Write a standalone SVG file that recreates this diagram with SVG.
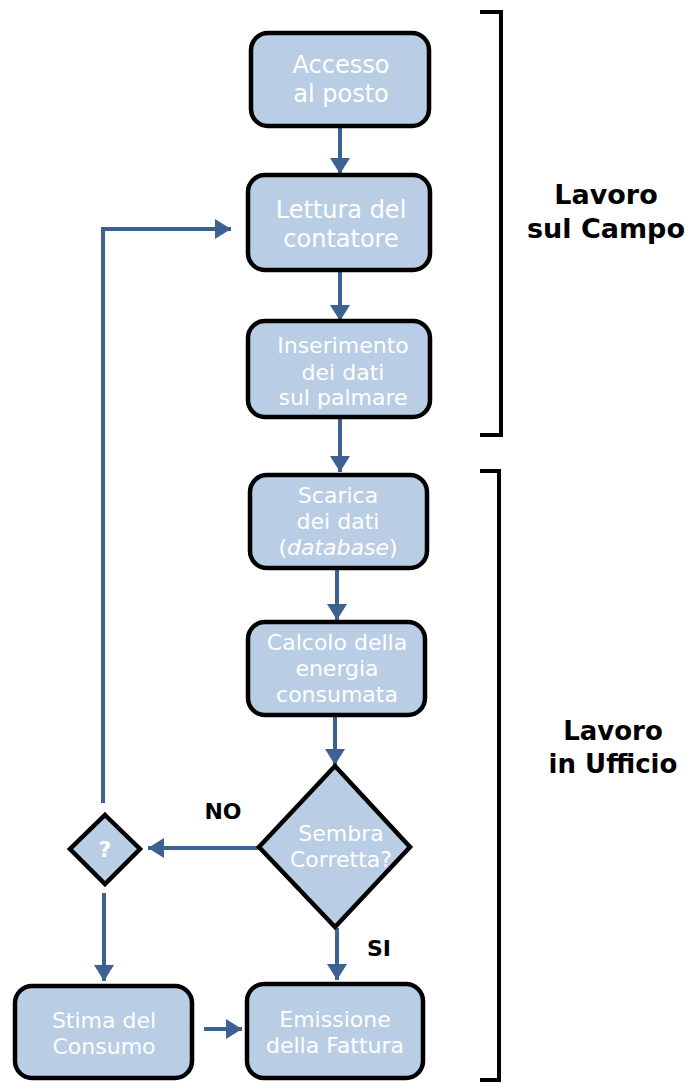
<svg xmlns="http://www.w3.org/2000/svg" width="689" height="1082" viewBox="0 0 689 1082">
  <style>
    .box { fill: #b9cde5; stroke: #000; stroke-width: 4.5; }
    .t { font-family: "DejaVu Sans", Verdana, sans-serif; fill: #fff; text-anchor: middle; font-size: 22px; }
    .big { font-size: 24px; }
    .lbl { font-family: "DejaVu Sans", Verdana, sans-serif; font-weight: bold; fill: #000; text-anchor: middle; }
    .conn { fill: none; stroke: #3d6191; stroke-width: 4; }
    .brk { fill: none; stroke: #000; stroke-width: 4; }
  </style>
  <defs>
    <marker id="head" markerUnits="userSpaceOnUse" markerWidth="16" markerHeight="20" refX="16" refY="10" orient="auto">
      <path d="M0,0 L16,10 L0,20 z" fill="#3d6191"/>
    </marker>
  </defs>

  <rect width="689" height="1082" fill="#fff"/>

  <!-- connectors -->
  <g id="connectors">
    <path class="conn" marker-end="url(#head)" d="M340,127 V174"/>
    <path class="conn" marker-end="url(#head)" d="M340,271 V321"/>
    <path class="conn" marker-end="url(#head)" d="M340,418 V472"/>
    <path class="conn" marker-end="url(#head)" d="M337,569 V620"/>
    <path class="conn" marker-end="url(#head)" d="M335,716 V765"/>
    <path class="conn" marker-end="url(#head)" d="M260,848 H148"/>
    <path class="conn" marker-end="url(#head)" d="M337,928 V980"/>
    <path class="conn" marker-end="url(#head)" d="M104,893 V981"/>
    <path class="conn" marker-end="url(#head)" d="M103,803 V229 H231"/>
    <path class="conn" marker-end="url(#head)" d="M204,1029 H242"/>
  </g>

  <!-- phase brackets -->
  <g id="bracket-campo">
    <path class="brk" d="M480,12 H501 V435 H480"/>
    <text class="lbl" x="606" y="204" font-size="27">Lavoro</text>
    <text class="lbl" x="606" y="238" font-size="27">sul Campo</text>
  </g>
  <g id="bracket-ufficio">
    <path class="brk" d="M480,471 H499 V1080 H480"/>
    <text class="lbl" x="613" y="740" font-size="26">Lavoro</text>
    <text class="lbl" x="613" y="773" font-size="26">in Ufficio</text>
  </g>

  <!-- process nodes -->
  <g id="accesso">
    <rect class="box" x="251" y="33" width="178" height="93" rx="17"/>
    <text class="t big" x="341" y="73">Accesso</text>
    <text class="t big" x="341" y="102">al posto</text>
  </g>
  <g id="lettura">
    <rect class="box" x="248" y="175" width="182" height="95" rx="17"/>
    <text class="t big" x="341" y="218">Lettura del</text>
    <text class="t big" x="341" y="247">contatore</text>
  </g>
  <g id="inserimento">
    <rect class="box" x="248" y="321" width="182" height="96" rx="17"/>
    <text class="t" x="343" y="353">Inserimento</text>
    <text class="t" x="343" y="380">dei dati</text>
    <text class="t" x="343" y="405">sul palmare</text>
  </g>
  <g id="scarica">
    <rect class="box" x="250" y="475" width="177" height="93" rx="17"/>
    <text class="t" x="338" y="503">Scarica</text>
    <text class="t" x="338" y="529">dei dati</text>
    <text class="t" x="338" y="555">(<tspan font-style="italic">database</tspan>)</text>
  </g>
  <g id="calcolo">
    <rect class="box" x="248" y="622" width="177" height="93" rx="17"/>
    <text class="t" x="337" y="650">Calcolo della</text>
    <text class="t" x="337" y="676">energia</text>
    <text class="t" x="337" y="702">consumata</text>
  </g>
  <g id="sembra-corretta">
    <polygon class="box" points="335,766 410,847 335,927 259,847"/>
    <text class="t" x="341" y="841">Sembra</text>
    <text class="t" x="341" y="867">Corretta?</text>
  </g>
  <g id="verifica">
    <polygon class="box" points="105,815 140,849 105,884 70,849"/>
    <text class="t" x="105" y="857" font-weight="bold" font-size="21">?</text>
  </g>
  <g id="stima">
    <rect class="box" x="15" y="986" width="177" height="92" rx="17"/>
    <text class="t" x="104" y="1028">Stima del</text>
    <text class="t" x="104" y="1054">Consumo</text>
  </g>
  <g id="emissione">
    <rect class="box" x="247" y="984" width="176" height="94" rx="17"/>
    <text class="t" x="335" y="1027">Emissione</text>
    <text class="t" x="335" y="1053">della Fattura</text>
  </g>

  <!-- branch labels -->
  <text class="lbl" x="223" y="819" font-size="22">NO</text>
  <text class="lbl" x="379" y="956" font-size="22">SI</text>
</svg>
